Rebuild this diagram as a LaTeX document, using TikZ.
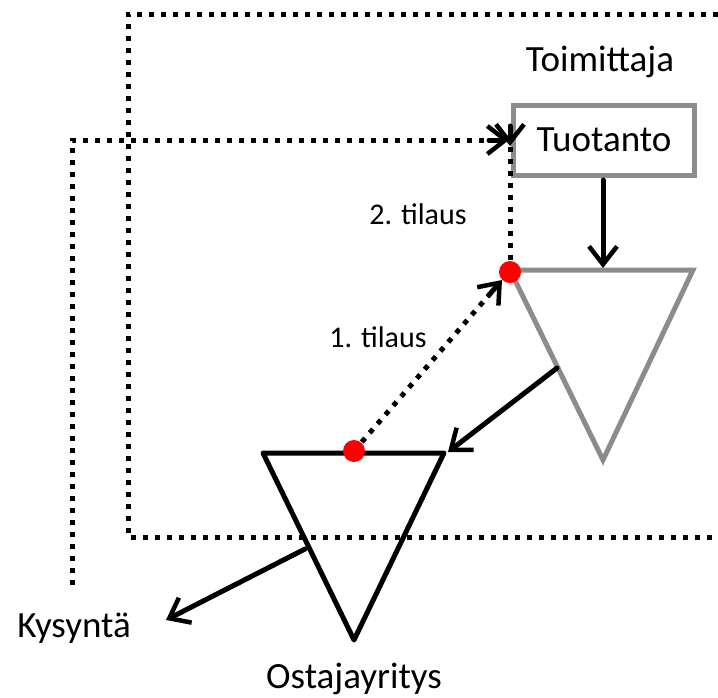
\documentclass[tikz,border=0pt]{standalone}
\usepackage{fontspec}
\setmainfont{Carlito}
\usetikzlibrary{arrows.meta,calc}
\begin{document}
\begin{tikzpicture}[x=1pt,y=-1pt,
  dotline/.style={line width=5pt, dash pattern=on 5pt off 7pt, black},
  solidline/.style={line width=5pt, black, line cap=round, line join=round},
  grayline/.style={line width=5pt, gray!90, line join=miter},
  tip/.style={-{Straight Barb[length=18pt,width=28pt,line width=4.5pt]}},
  reddot/.style={circle, fill=red, inner sep=0pt, minimum size=22pt},
  lbl/.style={font=\fontsize{37}{42}\selectfont, inner sep=0pt},
  slbl/.style={font=\fontsize{30}{34}\selectfont, inner sep=0pt}]
\useasboundingbox (0,0) rectangle (718,697);
% big dotted frame (open on the right)
\coordinate (fr1) at (718,14);
\coordinate (fr2) at (128,14);
\coordinate (fr3) at (128,537);
\coordinate (fr4) at (718,537);
\draw[dotline] (fr1) -- (fr2) -- (fr3) -- (fr4);
% texts
\node[lbl] (toim) at (600,62) {Toimittaja};
\node[lbl] (kys) at (74,628) {Kysyntä};
\node[lbl, anchor=base] (osta) at (354,688) {Ostajayritys};
\node[slbl] (t2) at (418,214) {2. tilaus};
\node[slbl] (t1) at (378,337) {1. tilaus};
% production box
\node[draw=gray!90, line width=5pt, minimum width=181pt, minimum height=70pt, inner sep=0pt, lbl] (tuo) at (604,140) {Tuotanto};
% supplier triangle
\coordinate (sA) at (510,270);
\coordinate (sB) at (693,270);
\coordinate (sC) at (603,460);
\draw[grayline] (sA) -- (sB) -- (sC) -- cycle;
% buyer triangle
\coordinate (bA) at (263,453);
\coordinate (bB) at (444,453);
\coordinate (bC) at (354,640);
\draw[solidline] (bA) -- (bB) -- (bC) -- cycle;
% red dot positions
\coordinate (c2) at (510,272);
\coordinate (c1) at (354,451);
% demand feedback loop
\coordinate (k1) at (72,585);
\coordinate (k2) at (72,140);
\coordinate (k3) at (509,140);
\draw[dotline] (k1) -- (k2) -- ([xshift=-20pt]k3);
\draw[solidline, tip] ([xshift=-20pt]k3) -- (k3);
% 2. order
\coordinate (o2) at (510,146);
\draw[dotline] (c2) -- ([yshift=20pt]o2);
\draw[solidline, tip] ([yshift=20pt]o2) -- (o2);
% 1. order
\coordinate (o1) at (502,280);
\draw[dotline] (c1) -- ($(o1)!20pt!(c1)$);
\draw[solidline, tip] ($(o1)!20pt!(c1)$) -- (o1);
% flows
\coordinate (p1) at (603,180);
\coordinate (p2) at (603,268);
\draw[solidline, tip] (p1) -- (p2);
\coordinate (f1) at (557,368);
\coordinate (f2) at (448,452);
\draw[solidline, tip] (f1) -- (f2);
\coordinate (g1) at (305,549);
\coordinate (g2) at (166,620);
\draw[solidline, tip] (g1) -- (g2);
% red dots on top
\node[reddot] (d2) at (c2) {};
\node[reddot] (d1) at (c1) {};
\end{tikzpicture}
\end{document}
